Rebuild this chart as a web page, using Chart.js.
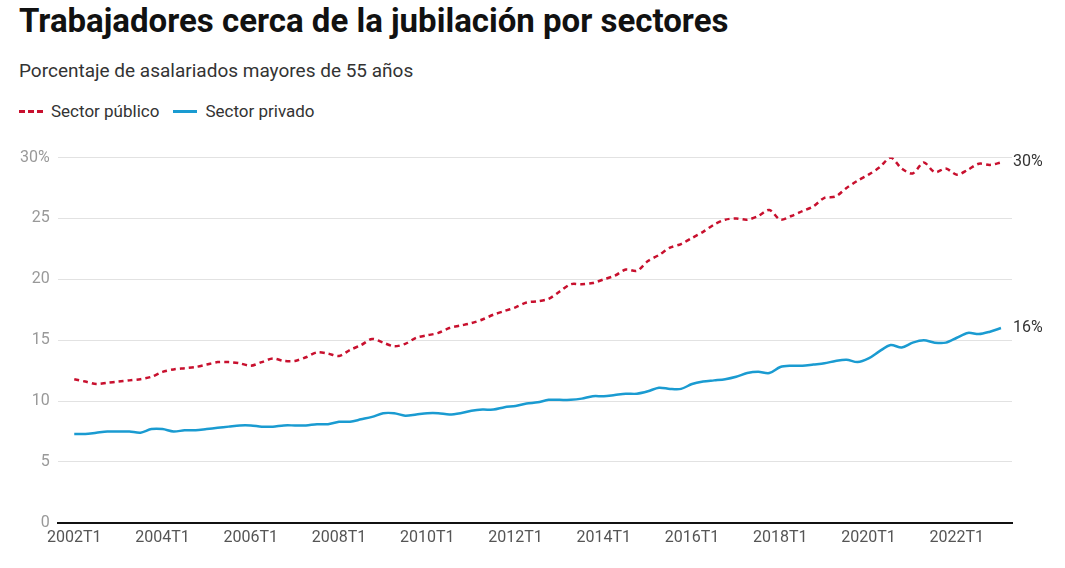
<!DOCTYPE html>
<html><head><meta charset="utf-8">
<script src="https://cdn.jsdelivr.net/npm/chart.js@4"></script>
<style>
body{margin:0;background:#fff;font-family:Roboto,sans-serif;color:#222;}
h1{position:absolute;left:19px;top:1px;margin:0;font-size:33px;font-weight:700;color:#111;}
.sub{position:absolute;left:19px;top:59px;font-size:19px;color:#333;}
.leg{position:absolute;left:19px;top:101px;font-size:17px;color:#333;display:flex;align-items:center;}
.sw{display:inline-block;width:24px;margin-right:8px;}
#wrap{position:absolute;left:0;top:140px;width:1065px;height:428px;}
</style></head><body>
<h1>Trabajadores cerca de la jubilación por sectores</h1>
<div class="sub">Porcentaje de asalariados mayores de 55 años</div>
<div class="leg"><span class="sw" style="border-top:3px dashed #c8102e"></span>Sector público<span class="sw" style="border-top:3px solid #1a9bd1;margin-left:14px"></span>Sector privado</div>
<div id="wrap"><canvas id="c"></canvas></div>
<script>
const years = [];
for (let y = 2002; y <= 2023; y++) years.push(y);
const labels = [];
years.forEach(y => { for (let q = 1; q <= 4; q++) labels.push(y + 'T' + q); });
labels.length = 85;

const publico = [
  11.8, 11.6, 11.4, 11.5, 11.6, 11.7, 11.8, 12.0,
  12.4, 12.6, 12.7, 12.8, 13.0, 13.2, 13.2, 13.1,
  12.9, 13.2, 13.5, 13.3, 13.3, 13.6, 14.0, 13.9,
  13.7, 14.2, 14.6, 15.1, 14.8, 14.5, 14.7, 15.2,
  15.4, 15.6, 16.0, 16.2, 16.4, 16.7, 17.1, 17.4,
  17.7, 18.1, 18.2, 18.4, 19.0, 19.6, 19.6, 19.7,
  20.0, 20.3, 20.8, 20.7, 21.5, 22.0, 22.6, 22.9,
  23.4, 23.9, 24.5, 24.9, 25.0, 24.9, 25.2, 25.7,
  24.9, 25.2, 25.6, 26.0, 26.7, 26.8, 27.5, 28.1,
  28.6, 29.2, 30.0, 29.1, 28.7, 29.6, 28.8, 29.1,
  28.6, 29.0, 29.5, 29.4, 29.6
];
const privado = [
  7.3, 7.3, 7.4, 7.5, 7.5, 7.5, 7.4, 7.7,
  7.7, 7.5, 7.6, 7.6, 7.7, 7.8, 7.9, 8.0,
  8.0, 7.9, 7.9, 8.0, 8.0, 8.0, 8.1, 8.1,
  8.3, 8.3, 8.5, 8.7, 9.0, 9.0, 8.8, 8.9,
  9.0, 9.0, 8.9, 9.0, 9.2, 9.3, 9.3, 9.5,
  9.6, 9.8, 9.9, 10.1, 10.1, 10.1, 10.2, 10.4,
  10.4, 10.5, 10.6, 10.6, 10.8, 11.1, 11.0, 11.0,
  11.4, 11.6, 11.7, 11.8, 12.0, 12.3, 12.4, 12.3,
  12.8, 12.9, 12.9, 13.0, 13.1, 13.3, 13.4, 13.2,
  13.5, 14.1, 14.6, 14.4, 14.8, 15.0, 14.8, 14.8,
  15.2, 15.6, 15.5, 15.7, 16.0
];
const yTicks = [0, 5, 10, 15, 20, 25, 30];
const xTicks = [0, 8, 16, 24, 32, 40, 48, 56, 64, 72, 80];

const toXY = arr => arr.map((v, i) => ({ x: i, y: v }));

// end-of-line labels
const endLabels = {
  id: 'endLabels',
  afterDatasetsDraw(chart) {
    const ctx = chart.ctx;
    ctx.save();
    ctx.font = '16px Roboto';
    ctx.fillStyle = '#333';
    ctx.textBaseline = 'middle';
    chart.data.datasets.forEach((ds, i) => {
      const pts = chart.getDatasetMeta(i).data;
      const p = pts[pts.length - 1];
      ctx.fillText(Math.round(ds.data[ds.data.length - 1].y) + '%', chart.chartArea.right + 1, p.y);
    });
    ctx.restore();
  }
};

new Chart(document.getElementById('c'), {
  type: 'line',
  data: {
    datasets: [
      { label: 'Sector público', data: toXY(publico), borderColor: '#c8102e', borderWidth: 2.5, borderDash: [5, 4], pointRadius: 0, tension: 0.3 },
      { label: 'Sector privado', data: toXY(privado), borderColor: '#1a9bd1', borderWidth: 2.5, pointRadius: 0, tension: 0.3 },
    ],
  },
  options: {
    responsive: true,
    maintainAspectRatio: false,
    animation: false,
    layout: { padding: { left: 12, right: 53, top: 12, bottom: 14 } },
    plugins: { legend: { display: false }, tooltip: { enabled: false } },
    scales: {
      x: {
        type: 'linear', min: -1.5, max: 85,
        afterBuildTicks: s => { s.ticks = xTicks.map(v => ({ value: v })); },
        grid: { display: false, drawTicks: false },
        border: { color: '#111', width: 2 },
        ticks: {
          maxRotation: 0, padding: 6,
          color: '#555', font: { size: 16, family: 'Roboto' },
          callback: v => labels[v],
        },
      },
      y: {
        min: 0, max: 30,
        afterBuildTicks: s => { s.ticks = yTicks.map(v => ({ value: v })); },
        grid: { color: '#e2e2e2', drawTicks: false },
        border: { display: false },
        ticks: {
          padding: 8, color: '#999', font: { size: 16, family: 'Roboto' },
          callback: v => v === 30 ? '30%' : v,
        },
      },
    },
  },
  plugins: [endLabels],
});
</script>
</body></html>
